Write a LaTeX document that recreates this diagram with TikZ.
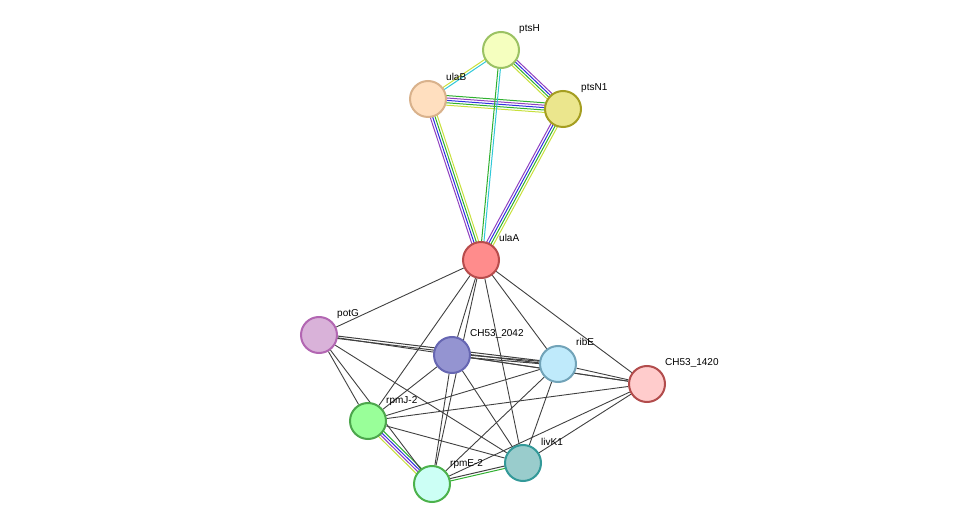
\documentclass[tikz,border=0pt]{standalone}
\usepackage{fontspec}
\setmainfont{Liberation Sans}
\usetikzlibrary{calc,backgrounds}
\definecolor{eY}{HTML}{C8E03C}\definecolor{eG}{HTML}{30B030}\definecolor{eB}{HTML}{3030E0}
\definecolor{eP}{HTML}{9040C0}\definecolor{eC}{HTML}{30C8D8}\definecolor{eK}{HTML}{404040}
\tikzset{
 prot/.style 2 args={circle,minimum size=36pt,inner sep=0pt,line width=2pt,fill=#1,draw=#2},
 lab/.style={anchor=base west,font=\fontsize{10}{12}\selectfont,inner sep=0pt},
 gray/.style={draw=eK,line width=0.9pt}
}
\newcommand{\multiedge}[3]{% a, b, list of colour/offset
 \foreach \c/\o in {#3}{\draw[\c,line width=1pt] ($(#1.center)!\o pt!90:(#2.center)$) -- ($(#2.center)!\o pt!-90:(#1.center)$);}}
\begin{document}
\begin{tikzpicture}[x=1pt,y=-1pt]
\useasboundingbox (0,0) rectangle (975,529);
\node[prot={green!15!yellow!25}{olive!50!green!60}] (ptsH) at (501,50) {};
\node[prot={orange!25}{brown!60}] (ulaB) at (428,99) {};
\node[prot={yellow!55!olive!40}{olive!80}] (ptsN1) at (563,109) {};
\node[prot={red!45}{red!60!black!70}] (ulaA) at (481,260) {};
\node[prot={violet!30}{violet!60}] (potG) at (319,335) {};
\node[prot={blue!40!gray!60}{blue!50!black!60}] (c2042) at (452,355) {};
\node[prot={cyan!25}{cyan!40!gray}] (ribE) at (558,364) {};
\node[prot={red!20}{red!40!gray}] (c1420) at (647,384) {};
\node[prot={green!40}{green!50!black!70}] (rpmJ) at (368,421) {};
\node[prot={teal!40}{teal!80}] (livK1) at (523,463) {};
\node[prot={green!20!cyan!20}{green!40!gray}] (rpmE) at (432,484) {};
\foreach \n/\t in {ptsH/ptsH,ulaB/ulaB,ptsN1/ptsN1,ulaA/ulaA,potG/potG,c2042/CH53\_2042,ribE/ribE,c1420/CH53\_1420,rpmJ/rpmJ-2,livK1/livK1,rpmE/rpmE-2}
 \node[lab] (\n-l) at ($(\n.center)+(18,-18)$) {\t};
\begin{scope}[on background layer]
\multiedge{ptsH}{ulaB}{eY/-1.2,eC/1.2}
\multiedge{ptsH}{ptsN1}{eY/-3.6,eG/-1.2,eB/1.2,eP/3.6}
\multiedge{ulaB}{ptsN1}{eY/-4.8,eG/-2.4,eB/0,eP/2.4,eG/4.8}
\multiedge{ulaA}{ptsH}{eC/-1.2,eG/1.2}
\multiedge{ulaA}{ulaB}{eY/-3.6,eG/-1.2,eB/1.2,eP/3.6}
\multiedge{ulaA}{ptsN1}{eY/-3.6,eG/-1.2,eB/1.2,eP/3.6}
\multiedge{rpmJ}{rpmE}{eY/-3.6,eP/-1.2,eB/1.2,eG/3.6}
\multiedge{rpmE}{livK1}{eG/-1.2,eK/1.2}
\foreach \a/\b in {ulaA/potG,ulaA/c2042,ulaA/ribE,ulaA/c1420,ulaA/rpmJ,ulaA/livK1,ulaA/rpmE,
 potG/c1420,potG/rpmJ,potG/livK1,potG/rpmE,
 c2042/c1420,c2042/rpmJ,c2042/livK1,c2042/rpmE,
 ribE/rpmJ,ribE/livK1,ribE/rpmE,ribE/c1420,
 c1420/rpmJ,c1420/livK1,c1420/rpmE,rpmJ/livK1}
 \draw[gray] (\a) -- (\b);
\multiedge{potG}{ribE}{eK/-1.2,eK/1.2}
\multiedge{c2042}{ribE}{eK/-1.2,eK/1.2}
\end{scope}
\end{tikzpicture}
\end{document}
